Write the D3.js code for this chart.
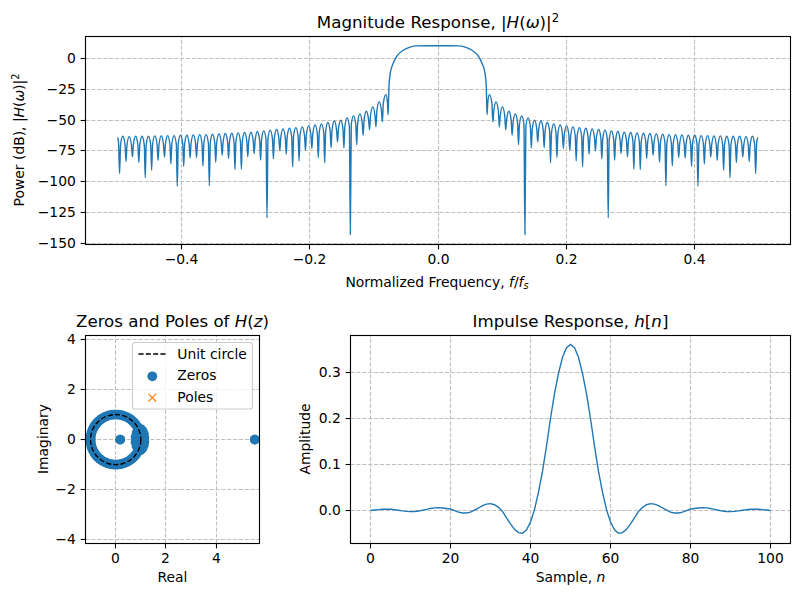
<!DOCTYPE html>
<html>
<head>
<meta charset="utf-8">
<script src="https://d3js.org/d3.v7.min.js"></script>
<style>
  html, body { margin: 0; padding: 0; background: #fff; }
  svg text { font-family: "DejaVu Sans", sans-serif; fill: #000; }
</style>
</head>
<body>
<svg id="chart" width="800" height="600"></svg>
<script>
// values. response and impulse are symmetric so only left half is kept
var halfFreq = [
  -.5, -.4985,
  -.4968, -.4953, -.4918, -.4883,
  -.4868, -.4853, -.4818, -.4783,
  -.4768, -.4753, -.4718, -.4683,
  -.4668, -.4653, -.4618, -.4583,
  -.4568, -.4553, -.4518, -.4483,
  -.4468, -.4453, -.4418, -.4383,
  -.4368, -.4353, -.4318, -.4283,
  -.4268, -.4253, -.4218, -.4183,
  -.4168, -.4153, -.4118, -.4083,
  -.4068, -.4053, -.4018, -.3983,
  -.3968, -.3953, -.3918, -.3883,
  -.3868, -.3853, -.3818, -.3783,
  -.3768, -.3753, -.3718, -.3683,
  -.3668, -.3653, -.3618, -.3583,
  -.3568, -.3553, -.3518, -.3483,
  -.3468, -.3453, -.3418, -.3383,
  -.3368, -.3353, -.3318, -.3283,
  -.3268, -.3253, -.3218, -.3183,
  -.3168, -.3153, -.3118, -.3083,
  -.3068, -.3053, -.3018, -.2983,
  -.2968, -.2953, -.2918, -.2883,
  -.2868, -.2853, -.2818, -.2783,
  -.2768, -.2753, -.2718, -.2683,
  -.2668, -.2653, -.2618, -.2583,
  -.2568, -.2553, -.2518, -.2483,
  -.2468, -.2453, -.2418, -.2383,
  -.2368, -.2353, -.2318, -.2283,
  -.2268, -.2253, -.2218, -.2183,
  -.2168, -.2153, -.2118, -.2083,
  -.2068, -.2053, -.2018, -.1983,
  -.1968, -.1953, -.1918, -.1883,
  -.1868, -.1853, -.1818, -.1783,
  -.1768, -.1753, -.1718, -.1683,
  -.1668, -.1653, -.1618, -.1583,
  -.1568, -.1553, -.1518, -.1483,
  -.1468, -.1453, -.1418, -.1383,
  -.1368, -.1353, -.1318, -.1283,
  -.1268, -.1253, -.1218, -.1183,
  -.1168, -.1153, -.1118, -.1083,
  -.1068, -.1053, -.1018, -.0983,
  -.0968, -.0953, -.0918, -.0883,
  -.0868, -.0853, -.0814, -.0788,
  -.0778,
  -.0771, -.0765, -.0744, -.0697, -.0644, -.0541, -.0437, -.0332, -.0161, 0
];

var halfDb = [
  -64, -68,
  -93.3, -70, -63, -70,
  -83.6, -70.3, -63.3, -70.3,
  -79.8, -70, -63, -70,
  -84.4, -70, -63, -70,
  -96.6, -70, -63, -70,
  -90.6, -69.7, -62.7, -69.7,
  -82.5, -69.7, -62.7, -69.7,
  -80, -69.5, -62.5, -69.5,
  -85.5, -69.5, -62.5, -69.5,
  -103.6, -69.2, -62.2, -69.2,
  -87.6, -69.2, -62.2, -69.2,
  -80.6, -68.9, -61.9, -68.9,
  -80.3, -68.7, -61.7, -68.7,
  -87.1, -68.7, -61.7, -68.7,
  -103.1, -68.4, -61.4, -68.4,
  -84.1, -68.1, -61.1, -68.1,
  -78.4, -67.8, -60.8, -67.8,
  -81.1, -67.6, -60.6, -67.6,
  -90.1, -67.3, -60.3, -67.3,
  -89.8, -67, -60, -67,
  -79.8, -66.8, -59.8, -66.8,
  -77.1, -66.2, -59.2, -66.2,
  -82.5, -65.7, -58.7, -65.7,
  -129.3, -65.1, -58.1, -65.1,
  -81.4, -64.6, -57.6, -64.6,
  -74.9, -64, -57, -64,
  -77.6, -63.5, -56.5, -63.5,
  -87.9, -63, -56, -63,
  -83, -62.4, -55.4, -62.4,
  -74.4, -61.6, -54.6, -61.6,
  -73, -60.8, -53.8, -60.8,
  -80.3, -60, -53, -60,
  -84.6, -58.9, -51.9, -58.9,
  -72.2, -57.6, -50.6, -57.6,
  -67.6, -57, -50, -57,
  -72.5, -55.1, -48.1, -55.1,
  -142.8, -53.5, -46.5, -53.5,
  -69.8, -51.9, -44.9, -51.9,
  -62.2, -49.7, -42.7, -49.7,
  -57.9, -46.2, -39.2, -46.2,
  -55.4, -42.1, -35.1, -42.1,
  -51.4, -36.2, -29.2, -36.2,
  -45.4,
  -33.8, -22.4, -11.6, -3.5, 1.9, 6.8, 9.3, 10.3, 10.4, 10.4
];

// upper half of the zeros, the lower half is the conjugate
var zerosRe = [5.53, .18, 1.14, 1.12, 1.07, 1, .79, .83, .9,
  .866, .819, .766, .707, .643, .574, .5, .423, .342, .259, .174, .087, 0,
  -.087, -.174, -.259, -.342, -.423, -.5, -.574, -.643, -.707, -.766, -.819,
  -.866, -.906, -.94, -.966, -.985, -.996, -1];
var zerosIm = [0, 0, .08, .22, .34, .42, .1, .26, .4,
  .5, .574, .643, .707, .766, .819, .866, .906, .94, .966, .985, .996, 1,
  .996, .985, .966, .94, .906, .866, .819, .766, .707, .643, .574,
  .5, .423, .342, .259, .174, .087, 0];

var halfImpulse = [
  0, .001, .002, .0028, .003, .0026, .0018, .0005, -.0008, -.0018,
  -.0023, -.0022, -.0012, .0005, .0025, .0045, .0058, .0062, .0055, .0045,
  .0032, -.0003, -.0035, -.0055, -.0055, -.0035, .001, .0055, .0105, .014,
  .015, .0125, .007, -.002, -.016, -.029, -.041, -.048, -.0495, -.042,
  -.025, .002, .04, .085, .14, .2, .254, .298, .333, .354, .361
];

var freqTicks = [-.4, -.2, 0, .2, .4];
var dbTicks = [0, -25, -50, -75, -100, -125, -150];
var reTicks = [0, 2, 4];
var imTicks = [-4, -2, 0, 2, 4];
var sampleTicks = [0, 20, 40, 60, 80, 100];
var ampTicks = [0, .1, .2, .3];

// right half sits a touch left of a true mirror in the picture
var freq = halfFreq.concat(halfFreq.slice(0, -1).reverse().map(function(f) { return -f - .0012; }));
var db = halfDb.concat(halfDb.slice(0, -1).reverse());
var impulse = halfImpulse.concat(halfImpulse.slice(0, -1).reverse());

var blue = "#1f77b4";
var orange = "#ff7f0e";
var svg = d3.select("#chart");

function minus(s) { return String(s).replace("-", "\u2212"); }

// text with italic, superscript and subscript pieces
function richText(sel, parts, size) {
  parts.forEach(function(p) {
    var span = sel.append("tspan").text(p.t);
    if (p.i) span.style("font-style", "italic");
    if (p.up) span.attr("dy", -size * 0.38).style("font-size", (size * 0.7) + "px");
    if (p.down) span.attr("dy", size * 0.2).style("font-size", (size * 0.7) + "px");
  });
}

function snap(v) { return Math.floor(v) + .5; }

function makeAxes(box, xDomain, yDomain, xTicks, yTicks, fmtX, fmtY) {
  var x = d3.scaleLinear().domain(xDomain).range([box.left, box.right]);
  var y = d3.scaleLinear().domain(yDomain).range([box.bottom, box.top]);
  var g = svg.append("g");

  var grid = g.append("g").attr("fill", "none").attr("stroke", "#bfbfbf").attr("stroke-width", 1.1).attr("stroke-dasharray", "4.1,1.8");
  xTicks.forEach(function(t) {
    grid.append("line").attr("x1", snap(x(t))).attr("x2", snap(x(t))).attr("y1", box.bottom).attr("y2", box.top);
  });
  yTicks.forEach(function(t) {
    grid.append("line").attr("x1", box.left).attr("x2", box.right).attr("y1", snap(y(t))).attr("y2", snap(y(t)));
  });

  var plot = g.append("g");
  var frame = g.append("g");

  frame.append("rect")
    .attr("x", box.left).attr("y", box.top)
    .attr("width", box.right - box.left).attr("height", box.bottom - box.top)
    .attr("fill", "none").attr("stroke", "#000").attr("stroke-width", 1.11);

  var xAxis = d3.axisBottom(x).tickValues(xTicks).tickFormat(function(d) { return minus(fmtX(d)); })
    .tickSizeInner(4.86).tickSizeOuter(0).tickPadding(4.86);
  var yAxis = d3.axisLeft(y).tickValues(yTicks).tickFormat(function(d) { return minus(fmtY(d)); })
    .tickSizeInner(4.86).tickSizeOuter(0).tickPadding(4.86);

  var xg = frame.append("g").attr("transform", "translate(0," + box.bottom + ")").call(xAxis);
  var yg = frame.append("g").attr("transform", "translate(" + box.left + ",0)").call(yAxis);

  // pixel snap the ticks so they sit on the grid lines
  xg.selectAll(".tick").attr("transform", function(d) { return "translate(" + snap(x(d)) + ",0)"; });
  yg.selectAll(".tick").attr("transform", function(d) { return "translate(0," + snap(y(d)) + ")"; });

  [xg, yg].forEach(function(a) {
    a.attr("font-family", null).attr("font-size", null).style("font-size", "13.89px");
    a.select(".domain").remove();
    a.selectAll("line").attr("stroke", "#000").attr("stroke-width", 1.11);
  });

  return { x: x, y: y, plot: plot };
}

function title(px, py, parts) {
  var t = svg.append("text").attr("x", px).attr("y", py).attr("text-anchor", "middle").style("font-size", "16.67px");
  richText(t, parts, 16.67);
}

function xLabel(px, py, parts) {
  var t = svg.append("text").attr("x", px).attr("y", py).attr("text-anchor", "middle").style("font-size", "13.89px");
  richText(t, parts, 13.89);
}

function yLabel(px, py, parts) {
  var t = svg.append("text").attr("transform", "translate(" + px + "," + py + ") rotate(-90)")
    .attr("text-anchor", "middle").style("font-size", "13.89px");
  richText(t, parts, 13.89);
}

// magnitude response
var top1 = makeAxes({ left: 85.5, right: 790.5, top: 36.5, bottom: 244.5 }, [-.55, .55], [-150.9, 17.94], freqTicks, dbTicks,
  function(d) { return d === 0 ? "0.0" : d3.format(".1f")(d); }, function(d) { return d; });

var respLine = d3.line()
  .x(function(d, i) { return top1.x(freq[i]); })
  .y(function(d) { return top1.y(d); })
  .curve(d3.curveMonotoneX);

top1.plot.append("path").attr("d", respLine(db))
  .attr("fill", "none").attr("stroke", blue).attr("stroke-width", 1.39);

title(438, 28, [{ t: "Magnitude Response, |" }, { t: "H", i: 1 }, { t: "(" }, { t: "\u03c9", i: 1 }, { t: ")|" }, { t: "2", up: 1 }]);
xLabel(437, 286.5, [{ t: "Normalized Frequency, " }, { t: "f", i: 1 }, { t: "/" }, { t: "f", i: 1 }, { t: "s", i: 1, down: 1 }]);
yLabel(24, 140, [{ t: "Power (dB), |" }, { t: "H", i: 1 }, { t: "(" }, { t: "\u03c9", i: 1 }, { t: ")|" }, { t: "2", up: 1 }]);

// zeros and poles
var pz = makeAxes({ left: 85.5, right: 259.5, top: 335.5, bottom: 543.5 }, [-1.2, 5.718], [-4.148, 4.156], reTicks, imTicks,
  function(d) { return d; }, function(d) { return d; });

var zeros = zerosRe.map(function(re, i) { return { re: re, im: zerosIm[i] }; })
  .concat(zerosRe.map(function(re, i) { return { re: re, im: -zerosIm[i] }; }));

pz.plot.selectAll("circle.zero").data(zeros).enter().append("circle")
  .attr("class", "zero")
  .attr("cx", function(d) { return pz.x(d.re); })
  .attr("cy", function(d) { return pz.y(d.im); })
  .attr("r", 4.9)
  .attr("fill", blue);

pz.plot.append("ellipse")
  .attr("cx", pz.x(0)).attr("cy", pz.y(0))
  .attr("rx", pz.x(1) - pz.x(0)).attr("ry", pz.y(0) - pz.y(1))
  .attr("fill", "none").attr("stroke", "#000").attr("stroke-width", 1.39).attr("stroke-dasharray", "5.1,2.2");

var legend = svg.append("g");
legend.append("rect").attr("x", 132.5).attr("y", 342.5).attr("width", 120).attr("height", 66.5).attr("rx", 2.8)
  .attr("fill", "#fff").attr("fill-opacity", .8).attr("stroke", "#cccccc").attr("stroke-width", 1.11);
legend.append("line").attr("x1", 138.5).attr("x2", 166.5).attr("y1", 354).attr("y2", 354)
  .attr("stroke", "#000").attr("stroke-width", 1.39).attr("stroke-dasharray", "5.1,2.2");
legend.append("circle").attr("cx", 152.3).attr("cy", 376.3).attr("r", 4.9).attr("fill", blue);
legend.append("path").attr("d", d3.symbol().type(d3.symbolX).size(40)()).attr("transform", "translate(152.3,397.7)")
  .attr("fill", "none").attr("stroke", orange).attr("stroke-width", 1.3);
[["Unit circle", 358.5], ["Zeros", 380], ["Poles", 401.5]].forEach(function(e) {
  legend.append("text").attr("x", 177.3).attr("y", e[1]).style("font-size", "13.89px").text(e[0]);
});

title(172.5, 327, [{ t: "Zeros and Poles of " }, { t: "H", i: 1 }, { t: "(" }, { t: "z", i: 1 }, { t: ")" }]);
xLabel(172.5, 582, [{ t: "Real" }]);
yLabel(47.5, 439, [{ t: "Imaginary" }]);

// impulse response
var imp = makeAxes({ left: 350.5, right: 790.5, top: 335.5, bottom: 543.5 }, [-5, 105], [-.0717, .3804], sampleTicks, ampTicks,
  function(d) { return d; }, function(d) { return d3.format(".1f")(d); });

var impLine = d3.line()
  .x(function(d, i) { return imp.x(i); })
  .y(function(d) { return imp.y(d); });

imp.plot.append("path").attr("d", impLine(impulse))
  .attr("fill", "none").attr("stroke", blue).attr("stroke-width", 1.39);

title(570.5, 327, [{ t: "Impulse Response, " }, { t: "h", i: 1 }, { t: "[" }, { t: "n", i: 1 }, { t: "]" }]);
xLabel(570.5, 582, [{ t: "Sample, " }, { t: "n", i: 1 }]);
yLabel(309.5, 439, [{ t: "Amplitude" }]);
</script>
</body>
</html>
